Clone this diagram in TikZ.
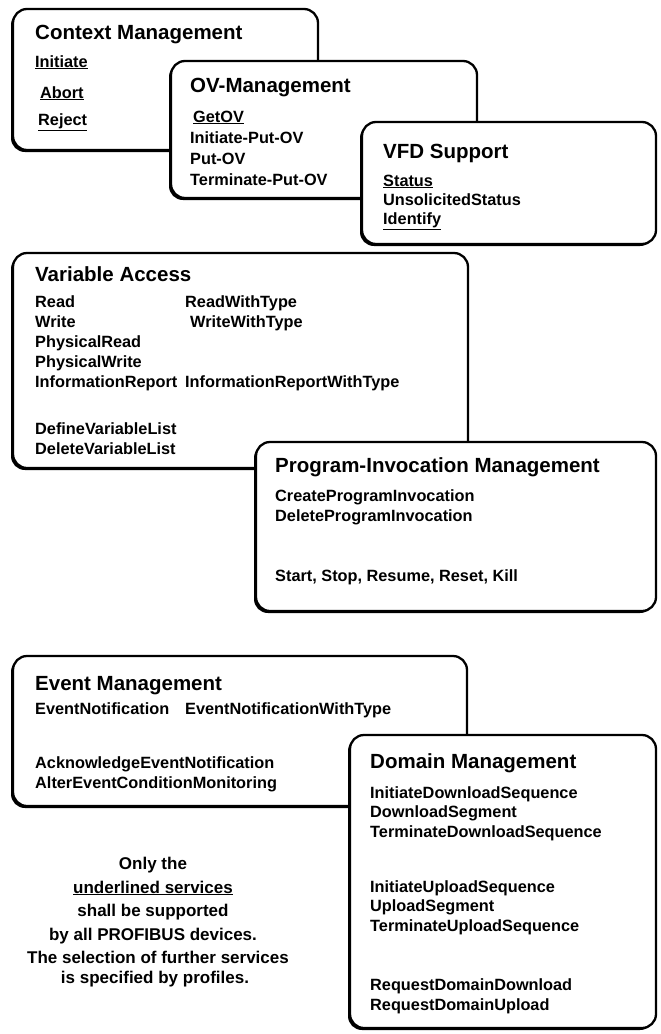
\documentclass[tikz,border=0pt]{standalone}
\usepackage{fontspec}
\setmainfont{Liberation Sans}
\usetikzlibrary{shadows}
\begin{document}
\begin{tikzpicture}[x=1pt,y=-1pt,
  panel/.style={draw=black, line width=2.3pt, fill=white, rounded corners=14pt,
    anchor=north west, inner sep=0pt, outer sep=0pt,
    drop shadow={shadow xshift=-2pt, shadow yshift=-2pt, fill=black, opacity=1}},
  heading/.style={anchor=base west, inner sep=0pt, font=\fontsize{20.5}{24}\selectfont\bfseries},
  entry/.style={anchor=base west, inner sep=0pt, font=\fontsize{16.3}{19}\selectfont\bfseries},
  remark/.style={anchor=base, inner sep=0pt, font=\fontsize{17}{20}\selectfont\bfseries},
]
\useasboundingbox (0,0) rectangle (661,1034);

% Context Management
\node[panel, minimum width=305pt, minimum height=141pt] (ctx) at (13,9) {};
\node[heading] (ctxT) at (35,39) {Context Management};
\node[entry] (ctx1) at (35,67) {\underline{Initiate}};
\node[entry] (ctx2) at (40,98) {\underline{Abort}};
\node[entry] (ctx3) at (38,125) {\underline{Reject}};

% OV-Management
\node[panel, minimum width=306pt, minimum height=137pt] (ov) at (171,61) {};
\node[heading] (ovT) at (190,92) {OV-Management};
\node[entry] (ov1) at (193,122) {\underline{GetOV}};
\node[entry] (ov2) at (190,143) {Initiate-Put-OV};
\node[entry] (ov3) at (190,164) {Put-OV};
\node[entry] (ov4) at (190,185) {Terminate-Put-OV};

% VFD Support
\node[panel, minimum width=294pt, minimum height=122pt] (vfd) at (362,122) {};
\node[heading] (vfdT) at (383,158) {VFD Support};
\node[entry] (vfd1) at (383,186) {\underline{Status}};
\node[entry] (vfd2) at (383,205) {UnsolicitedStatus};
\node[entry] (vfd3) at (383,224) {\underline{Identify}};

% Variable Access
\node[panel, minimum width=455pt, minimum height=215pt] (va) at (13,253) {};
\node[heading] (vaT) at (35,281) {Variable Access};
\node[entry] (va1) at (35,307) {Read};
\node[entry] (va2) at (35,327) {Write};
\node[entry] (va3) at (35,347) {PhysicalRead};
\node[entry] (va4) at (35,367) {PhysicalWrite};
\node[entry] (va5) at (35,387) {InformationReport};
\node[entry] (va6) at (35,434) {DefineVariableList};
\node[entry] (va7) at (35,454) {DeleteVariableList};
\node[entry] (va8) at (185,307) {ReadWithType};
\node[entry] (va9) at (190,327) {WriteWithType};
\node[entry] (va10) at (185,387) {InformationReportWithType};

% Program-Invocation Management
\node[panel, minimum width=400pt, minimum height=169pt] (pim) at (256,442) {};
\node[heading] (pimT) at (275,472) {Program-Invocation Management};
\node[entry] (pim1) at (275,501) {CreateProgramInvocation};
\node[entry] (pim2) at (275,521) {DeleteProgramInvocation};
\node[entry] (pim3) at (275,581) {Start, Stop, Resume, Reset, Kill};

% Event Management
\node[panel, minimum width=454pt, minimum height=150pt] (ev) at (13,656) {};
\node[heading] (evT) at (35,690) {Event Management};
\node[entry] (ev1) at (35,714) {EventNotification};
\node[entry] (ev2) at (185,714) {EventNotificationWithType};
\node[entry] (ev3) at (35,768) {AcknowledgeEventNotification};
\node[entry] (ev4) at (35,788) {AlterEventConditionMonitoring};

% Domain Management
\node[panel, minimum width=306pt, minimum height=293pt] (dm) at (350,735) {};
\node[heading] (dmT) at (370,768) {Domain Management};
\node[entry] (dm1) at (370,798) {InitiateDownloadSequence};
\node[entry] (dm2) at (370,817) {DownloadSegment};
\node[entry] (dm3) at (370,837) {TerminateDownloadSequence};
\node[entry] (dm4) at (370,892) {InitiateUploadSequence};
\node[entry] (dm5) at (370,911) {UploadSegment};
\node[entry] (dm6) at (370,931) {TerminateUploadSequence};
\node[entry] (dm7) at (370,990) {RequestDomainDownload};
\node[entry] (dm8) at (370,1010) {RequestDomainUpload};

% Note on mandatory services
\node[remark] (n1) at (153,869) {Only the};
\node[remark] (n2) at (153,893) {\underline{underlined services}};
\node[remark] (n3) at (153,916) {shall be supported};
\node[remark] (n4) at (153,940) {by all PROFIBUS devices.};
\node[remark] (n5) at (158,963) {The selection of further services};
\node[remark] (n6) at (155,983) {is specified by profiles.};
\end{tikzpicture}
\end{document}
